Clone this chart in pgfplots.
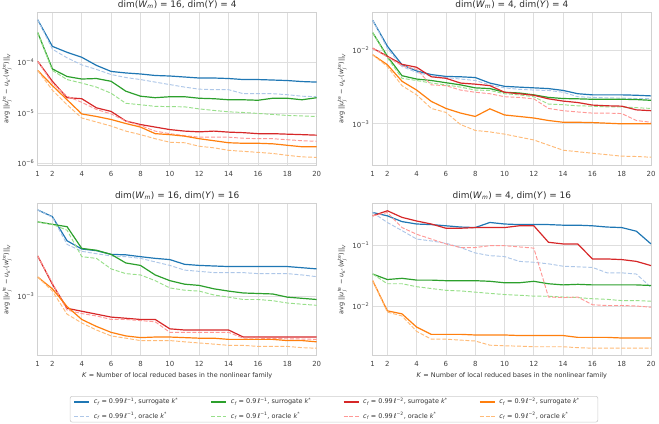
\documentclass[border=0pt]{standalone}
\usepackage{fontspec}
\setmainfont{DejaVu Sans}
\usepackage{amsmath}
\usepackage{pgfplots}
\usepackage{pgfplotstable}
\pgfplotsset{compat=1.18}

\definecolor{cb}{HTML}{1F77B4}
\definecolor{cg}{HTML}{2CA02C}
\definecolor{cr}{HTML}{D62728}
\definecolor{co}{HTML}{FF7F0E}
\definecolor{lb}{HTML}{AEC7E8}
\definecolor{lg}{HTML}{98DF8A}
\definecolor{lr}{HTML}{FF9896}
\definecolor{lo}{HTML}{FFBB78}

\newcommand{\vi}[1]{\text{\itshape #1}}
\newcommand{\errlabel}{avg \(\text{||}\vi{u}_{\vi{j}}^{\text{te}}\text{ − }\vi{u}_{\vi{k}^{\text{*}}}\text{(}\vi{w}_{\vi{j}}^{\text{te}}\text{)||}_{\vi{V}}\)}
\newcommand{\ent}[3]{\makebox[#1][l]{\(\vi{c}_{\vi{f}}\) = #2, #3 \(\vi{k}^{\text{*}}\)}}

% columns: K, surrogate/oracle for the four tolerance settings
\pgfplotstableread{
K  bs      bo      gs      go      rs      ro      os      oo
1  6.95e-4 6.95e-4 3.89e-4 3.89e-4 1.05e-4 1.05e-4 6.92e-5 6.92e-5
2  2.07e-4 1.82e-4 7.41e-5 6.92e-5 4.22e-5 3.89e-5 3.47e-5 2.82e-5
3  1.58e-4 1.23e-4 5.25e-5 4.57e-5 2.00e-5 2.14e-5 1.82e-5 1.45e-5
4  1.26e-4 8.91e-5 4.68e-5 3.89e-5 1.91e-5 1.62e-5 9.55e-6 7.94e-6
5  8.71e-5 7.24e-5 4.79e-5 3.24e-5 1.26e-5 1.17e-5 8.51e-6 6.61e-6
6  6.61e-5 5.75e-5 4.22e-5 2.45e-5 1.07e-5 9.55e-6 7.41e-6 5.50e-6
7  6.17e-5 5.01e-5 2.69e-5 1.55e-5 6.92e-6 6.92e-6 6.17e-6 4.37e-6
8  5.89e-5 4.57e-5 2.14e-5 1.45e-5 5.89e-6 5.62e-6 5.25e-6 3.72e-6
9  5.50e-5 4.07e-5 2.00e-5 1.35e-5 5.25e-6 4.37e-6 3.89e-6 3.09e-6
10 5.37e-5 3.63e-5 2.09e-5 1.33e-5 4.68e-6 3.89e-6 3.72e-6 2.63e-6
11 5.13e-5 3.24e-5 2.09e-5 1.32e-5 4.37e-6 3.55e-6 3.47e-6 2.57e-6
12 4.90e-5 2.95e-5 1.95e-5 1.20e-5 4.22e-6 3.31e-6 3.09e-6 2.19e-6
13 4.90e-5 2.88e-5 1.91e-5 1.12e-5 4.37e-6 3.31e-6 2.82e-6 2.04e-6
14 4.79e-5 2.88e-5 1.82e-5 1.05e-5 4.17e-6 3.31e-6 2.57e-6 1.82e-6
15 4.57e-5 2.40e-5 1.82e-5 1.02e-5 4.07e-6 3.16e-6 2.51e-6 1.74e-6
16 4.57e-5 2.40e-5 1.78e-5 9.77e-6 3.89e-6 3.09e-6 2.51e-6 1.66e-6
17 4.47e-5 2.40e-5 1.95e-5 9.33e-6 3.89e-6 3.09e-6 2.45e-6 1.58e-6
18 4.37e-5 2.29e-5 1.95e-5 8.91e-6 3.80e-6 2.95e-6 2.29e-6 1.45e-6
19 4.17e-5 2.14e-5 1.82e-5 8.71e-6 3.72e-6 2.82e-6 2.14e-6 1.35e-6
20 4.07e-5 2.09e-5 2.00e-5 8.51e-6 3.63e-6 2.75e-6 2.14e-6 1.32e-6
}\tabA

\pgfplotstableread{
K  bs      bo      gs      go      rs      ro      os      oo
1  2.57e-2 2.57e-2 1.74e-2 1.74e-2 1.07e-2 1.07e-2 8.71e-3 8.71e-3
2  1.14e-2 1.07e-2 8.32e-3 7.94e-3 8.32e-3 8.13e-3 6.38e-3 6.03e-3
3  6.38e-3 6.03e-3 4.52e-3 4.17e-3 6.46e-3 6.17e-3 3.80e-3 3.31e-3
4  5.25e-3 5.01e-3 4.07e-3 3.89e-3 5.89e-3 5.50e-3 2.88e-3 2.48e-3
5  4.68e-3 4.52e-3 3.89e-3 3.59e-3 4.37e-3 3.39e-3 2.02e-3 1.62e-3
6  4.42e-3 4.27e-3 3.63e-3 3.39e-3 4.17e-3 3.31e-3 1.62e-3 1.43e-3
7  4.37e-3 4.07e-3 3.39e-3 3.16e-3 3.59e-3 2.88e-3 1.40e-3 9.77e-4
8  4.27e-3 3.89e-3 3.09e-3 2.88e-3 3.47e-3 2.69e-3 1.26e-3 8.13e-4
9  3.59e-3 3.39e-3 3.02e-3 2.85e-3 3.31e-3 2.57e-3 1.60e-3 7.76e-4
10 3.24e-3 3.09e-3 2.69e-3 2.57e-3 2.69e-3 2.34e-3 1.32e-3 7.24e-4
11 3.16e-3 2.95e-3 2.63e-3 2.48e-3 2.57e-3 2.29e-3 1.26e-3 6.61e-4
12 3.09e-3 2.88e-3 2.48e-3 2.34e-3 2.45e-3 2.19e-3 1.20e-3 6.03e-4
13 3.02e-3 2.85e-3 2.29e-3 1.86e-3 2.19e-3 1.62e-3 1.11e-3 5.13e-4
14 2.85e-3 2.69e-3 2.21e-3 1.82e-3 2.04e-3 1.51e-3 1.05e-3 4.37e-4
15 2.57e-3 2.34e-3 2.19e-3 1.76e-3 1.95e-3 1.45e-3 1.05e-3 4.17e-4
16 2.48e-3 2.29e-3 2.16e-3 1.74e-3 1.80e-3 1.40e-3 1.04e-3 3.98e-4
17 2.48e-3 2.26e-3 2.16e-3 1.70e-3 1.76e-3 1.40e-3 1.02e-3 3.80e-4
18 2.48e-3 2.24e-3 2.16e-3 1.70e-3 1.74e-3 1.38e-3 1.00e-3 3.63e-4
19 2.45e-3 2.21e-3 2.14e-3 1.66e-3 1.55e-3 1.11e-3 1.00e-3 3.59e-4
20 2.40e-3 2.21e-3 2.09e-3 1.62e-3 1.51e-3 1.05e-3 1.00e-3 3.51e-4
}\tabB

\pgfplotstableread{
K  bs      bo      gs      go      rs      ro      os      oo
1  5.40e-3 5.40e-3 4.27e-3 4.27e-3 2.19e-3 2.19e-3 1.45e-3 1.45e-3
2  4.73e-3 4.68e-3 4.07e-3 4.07e-3 1.26e-3 1.29e-3 1.15e-3 1.10e-3
3  2.95e-3 2.75e-3 3.89e-3 3.63e-3 7.85e-4 7.59e-4 8.13e-4 7.00e-4
4  2.51e-3 2.40e-3 2.54e-3 2.16e-3 7.41e-4 7.08e-4 6.31e-4 5.89e-4
5  2.43e-3 2.29e-3 2.45e-3 2.09e-3 7.00e-4 6.76e-4 5.50e-4 5.13e-4
6  2.26e-3 2.19e-3 2.26e-3 1.70e-3 6.61e-4 6.31e-4 4.90e-4 4.57e-4
7  2.24e-3 2.16e-3 1.91e-3 1.55e-3 6.46e-4 6.31e-4 4.57e-4 4.37e-4
8  2.16e-3 2.09e-3 1.82e-3 1.51e-3 6.31e-4 6.17e-4 4.42e-4 4.17e-4
9  2.09e-3 1.95e-3 1.51e-3 1.35e-3 6.31e-4 6.03e-4 4.47e-4 4.17e-4
10 2.04e-3 1.82e-3 1.35e-3 1.17e-3 5.25e-4 4.90e-4 4.47e-4 4.17e-4
11 1.86e-3 1.66e-3 1.26e-3 1.12e-3 5.13e-4 4.90e-4 4.42e-4 4.07e-4
12 1.82e-3 1.62e-3 1.23e-3 1.10e-3 5.13e-4 4.90e-4 4.37e-4 3.98e-4
13 1.80e-3 1.58e-3 1.15e-3 1.02e-3 5.13e-4 4.90e-4 4.37e-4 3.89e-4
14 1.78e-3 1.58e-3 1.10e-3 9.77e-4 5.13e-4 4.90e-4 4.27e-4 3.80e-4
15 1.78e-3 1.58e-3 1.06e-3 9.33e-4 4.47e-4 4.37e-4 4.27e-4 3.80e-4
16 1.78e-3 1.55e-3 1.05e-3 9.33e-4 4.47e-4 4.37e-4 4.27e-4 3.72e-4
17 1.78e-3 1.55e-3 1.04e-3 9.12e-4 4.47e-4 4.34e-4 4.27e-4 3.72e-4
18 1.78e-3 1.55e-3 9.77e-4 8.71e-4 4.47e-4 4.32e-4 4.17e-4 3.72e-4
19 1.74e-3 1.51e-3 9.55e-4 8.51e-4 4.47e-4 4.30e-4 4.17e-4 3.63e-4
20 1.70e-3 1.46e-3 9.33e-4 8.32e-4 4.47e-4 4.27e-4 4.07e-4 3.59e-4
}\tabC

\pgfplotstableread{
K  bs      bo      gs      go      rs      ro      os      oo
1  3.55e-1 3.55e-1 3.39e-2 3.39e-2 3.13e-1 3.13e-1 2.63e-2 2.63e-2
2  3.13e-1 2.43e-1 2.75e-2 2.34e-2 3.80e-1 3.55e-1 8.32e-3 7.94e-3
3  2.51e-1 1.78e-1 2.88e-2 2.34e-2 2.95e-1 2.00e-1 7.41e-3 6.84e-3
4  2.29e-1 1.29e-1 2.69e-2 2.09e-2 2.57e-1 1.55e-1 4.47e-3 3.80e-3
5  2.24e-1 1.20e-1 2.69e-2 1.95e-2 2.29e-1 1.29e-1 3.39e-3 2.82e-3
6  2.14e-1 1.10e-1 2.63e-2 1.82e-2 1.95e-1 1.07e-1 3.39e-3 2.82e-3
7  2.04e-1 9.33e-2 2.63e-2 1.78e-2 1.95e-1 9.33e-2 3.39e-3 2.72e-3
8  2.00e-1 7.59e-2 2.63e-2 1.70e-2 2.00e-1 9.33e-2 3.31e-3 2.63e-3
9  2.43e-1 6.84e-2 2.57e-2 1.62e-2 2.00e-1 1.00e-1 3.31e-3 2.24e-3
10 2.29e-1 6.61e-2 2.43e-2 1.55e-2 2.00e-1 1.00e-1 3.31e-3 2.19e-3
11 2.24e-1 5.50e-2 2.43e-2 1.51e-2 2.14e-1 9.55e-2 3.24e-3 2.16e-3
12 2.24e-1 5.31e-2 2.57e-2 1.46e-2 2.14e-1 9.12e-2 3.24e-3 2.11e-3
13 2.24e-1 5.01e-2 2.34e-2 1.45e-2 1.14e-1 1.41e-2 3.24e-3 2.11e-3
14 2.19e-1 4.57e-2 2.24e-2 1.41e-2 1.07e-1 1.38e-2 3.24e-3 2.11e-3
15 2.19e-1 4.47e-2 2.29e-2 1.38e-2 1.07e-1 1.41e-2 3.02e-3 2.04e-3
16 2.14e-1 4.37e-2 2.24e-2 1.32e-2 6.03e-2 1.05e-2 3.02e-3 2.00e-3
17 2.04e-1 3.55e-2 2.24e-2 1.29e-2 6.03e-2 1.02e-2 3.02e-3 2.00e-3
18 2.00e-1 3.55e-2 2.24e-2 1.23e-2 5.89e-2 1.02e-2 2.95e-3 2.00e-3
19 1.74e-1 3.39e-2 2.24e-2 1.23e-2 5.50e-2 1.00e-2 2.95e-3 2.00e-3
20 1.07e-1 2.04e-2 2.19e-2 1.20e-2 4.68e-2 9.55e-3 2.95e-3 2.00e-3
}\tabD

% line styles shared by plots and legend images
\tikzset{
  sur/.style={solid, line width=1.2bp},
  ora/.style={line width=0.95bp, dash pattern=on 4bp off 1.8bp},
}

\pgfplotsset{
  errpanel/.style={
    scale only axis, width=279bp, height=152.4bp,
    anchor=south west,
    xmin=1, xmax=20,
    xtick={1,2,4,6,8,10,12,14,16,18,20},
    grid=major,
    major grid style={draw=black!13, line width=0.8bp},
    yminorticks=false, xminorticks=false,
    major tick length=0pt,
    axis line style={draw=black!18, line width=0.8bp},
    tick label style={font=\fontsize{7}{8}\selectfont, text=black!75},
    xticklabel style={yshift=-2.5bp},
    /pgf/number format/assume math mode=true,
    every axis title/.style={at={(axis description cs:0.5,1)},
      anchor=south, inner sep=0pt, yshift=3.6bp,
      font=\fontsize{9}{10}\selectfont, text=black!82},
    every axis y label/.style={at={(axis description cs:-0.11,0.5)},
      rotate=90, anchor=center, font=\fontsize{6.5}{7}\selectfont, text=black!80},
    every axis x label/.style={at={(axis description cs:0.5,0)},
      anchor=base, yshift=-21.4bp, font=\fontsize{6.5}{7}\selectfont, text=black!80},
    ylabel={\errlabel},
  },
}

\newcommand{\series}[1]{%
  \addplot[cb, sur, forget plot] table[x=K, y=bs] {#1};
  \addplot[lb, ora, forget plot] table[x=K, y=bo] {#1};
  \addplot[cg, sur, forget plot] table[x=K, y=gs] {#1};
  \addplot[lg, ora, forget plot] table[x=K, y=go] {#1};
  \addplot[cr, sur, forget plot] table[x=K, y=rs] {#1};
  \addplot[lr, ora, forget plot] table[x=K, y=ro] {#1};
  \addplot[co, sur, forget plot] table[x=K, y=os] {#1};
  \addplot[lo, ora, forget plot] table[x=K, y=oo] {#1};
}

\begin{document}
\begin{tikzpicture}[x=1bp, y=1bp]
\useasboundingbox (0,0) rectangle (659,423);

\begin{axis}[ymode=log, errpanel, at={(37.7bp,258bp)},
  ymin=9.33e-7, ymax=9.64e-4,
  ytick={1e-6,1e-5,1e-4},
  yticklabels={10\textsuperscript{−6},10\textsuperscript{−5},10\textsuperscript{−4}},
  title={dim(\textit{W}\textsubscript{\textit{m}}) = 16, dim(\textit{Y}) = 4}]
\series{\tabA}
\end{axis}

\begin{axis}[ymode=log, errpanel, at={(372.7bp,258bp)}, width=278.3bp,
  ymin=2.75e-4, ymax=3.27e-2,
  ytick={1e-3,1e-2},
  yticklabels={10\textsuperscript{−3},10\textsuperscript{−2}},
  title={dim(\textit{W}\textsubscript{\textit{m}}) = 4, dim(\textit{Y}) = 4}]
\series{\tabB}
\end{axis}

\begin{axis}[ymode=log, errpanel, at={(37.7bp,67.3bp)},
  ymin=3.10e-4, ymax=6.15e-3,
  ytick={1e-3},
  yticklabels={10\textsuperscript{−3}},
  title={dim(\textit{W}\textsubscript{\textit{m}}) = 16, dim(\textit{Y}) = 16},
  xlabel={\textit{K} = Number of local reduced bases in the nonlinear family},
  legend columns=4,
  legend cell align=left,
  legend style={at={(axis description cs:1.062,-0.351)}, anchor=center,
    draw=black!20, rounded corners=2bp, line width=0.6bp,
    font=\fontsize{6.5}{7}\selectfont, text=black!80,
    nodes={inner sep=0pt, text height=5bp, text depth=1.5bp},
    /tikz/column sep=4bp, /tikz/row sep=7.8bp,
    inner xsep=3.4bp, inner ysep=2.5bp},
  legend image code/.code={\draw[#1] (0bp,0bp) -- (15bp,0bp);}]
\series{\tabC}
\addlegendimage{cb, sur}\addlegendentry{\ent{113bp}{0.99\,ℓ\textsuperscript{−1}}{surrogate}}
\addlegendimage{cg, sur}\addlegendentry{\ent{108bp}{0.9\,ℓ\textsuperscript{−1}}{surrogate}}
\addlegendimage{cr, sur}\addlegendentry{\ent{112bp}{0.99\,ℓ\textsuperscript{−2}}{surrogate}}
\addlegendimage{co, sur}\addlegendentry{\ent{95bp}{0.9\,ℓ\textsuperscript{−2}}{surrogate}}
\addlegendimage{lb, ora}\addlegendentry{\ent{113bp}{0.99\,ℓ\textsuperscript{−1}}{oracle}}
\addlegendimage{lg, ora}\addlegendentry{\ent{108bp}{0.9\,ℓ\textsuperscript{−1}}{oracle}}
\addlegendimage{lr, ora}\addlegendentry{\ent{112bp}{0.99\,ℓ\textsuperscript{−2}}{oracle}}
\addlegendimage{lo, ora}\addlegendentry{\ent{95bp}{0.9\,ℓ\textsuperscript{−2}}{oracle}}
\end{axis}

\begin{axis}[ymode=log, errpanel, at={(372.7bp,67.3bp)}, width=278.3bp,
  ymin=1.50e-3, ymax=5.05e-1,
  ytick={1e-2,1e-1},
  yticklabels={10\textsuperscript{−2},10\textsuperscript{−1}},
  title={dim(\textit{W}\textsubscript{\textit{m}}) = 4, dim(\textit{Y}) = 16},
  xlabel={\textit{K} = Number of local reduced bases in the nonlinear family}]
\series{\tabD}
\end{axis}
\end{tikzpicture}
\end{document}
